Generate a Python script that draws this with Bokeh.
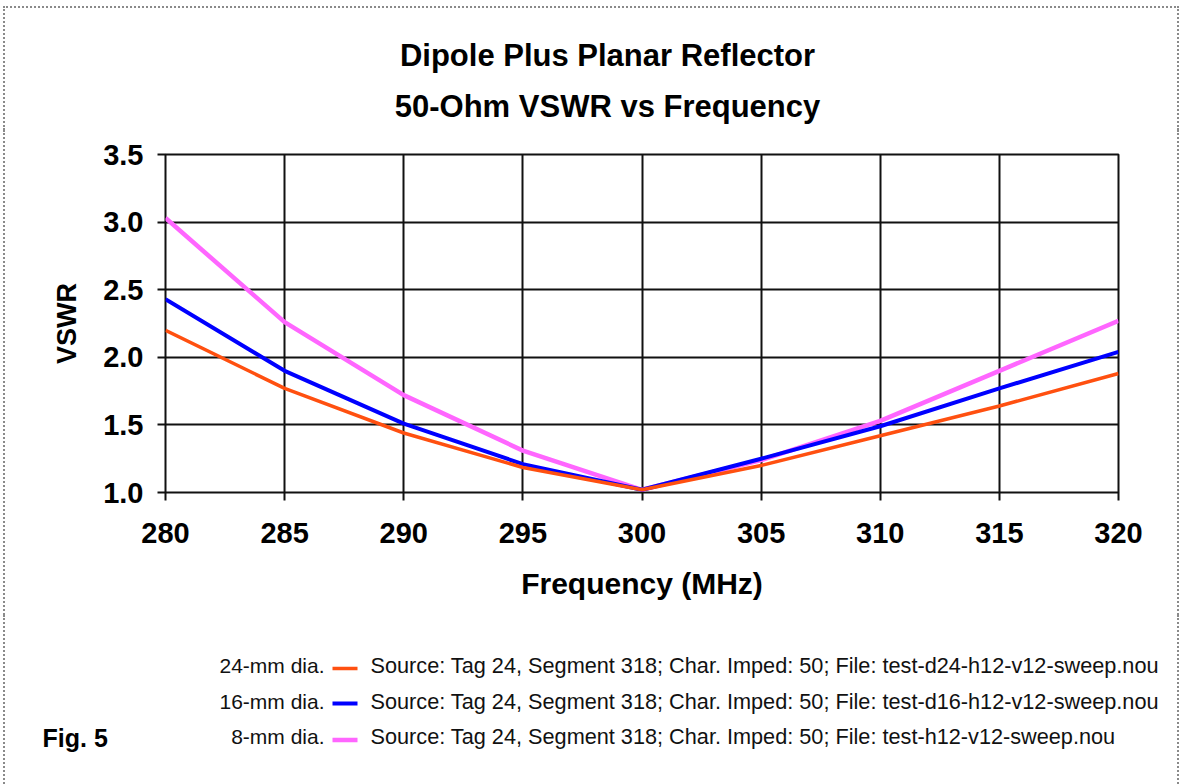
from bokeh.plotting import figure
from bokeh.models import (Range1d, FixedTicker, NumeralTickFormatter,
                          ColumnDataSource, InlineStyleSheet)
from bokeh.core.properties import value
from bokeh.embed import file_html
from bokeh.resources import INLINE

# ---- data ----
freq = [280, 285, 290, 295, 300, 305, 310, 315, 320]
vswr_24mm = [2.20, 1.77, 1.44, 1.185, 1.02, 1.20, 1.42, 1.64, 1.88]
vswr_16mm = [2.43, 1.90, 1.51, 1.21, 1.02, 1.25, 1.49, 1.77, 2.04]
vswr_8mm = [3.03, 2.26, 1.72, 1.31, 1.02, 1.24, 1.53, 1.90, 2.27]

x_ticks = [280, 285, 290, 295, 300, 305, 310, 315, 320]
y_ticks = [1.0, 1.5, 2.0, 2.5, 3.0, 3.5]

series_names = ["24-mm dia.", "16-mm dia.", "8-mm dia."]
series_sources = [
    "Source: Tag 24, Segment 318; Char. Imped: 50; File: test-d24-h12-v12-sweep.nou",
    "Source: Tag 24, Segment 318; Char. Imped: 50; File: test-d16-h12-v12-sweep.nou",
    "Source: Tag 24, Segment 318; Char. Imped: 50; File: test-h12-v12-sweep.nou",
]
series_colors = ["#FF5010", "#0000FF", "#FF66FF"]
series_widths = [3.5, 4, 4.5]

title_lines = ["Dipole Plus Planar Reflector", "50-Ohm VSWR vs Frequency"]
fig_label = "Fig. 5"

FONT = "Liberation Sans"
W = 1186
HEAD_H, FOOT_H = 130, 169
MAIN_H = 784 - HEAD_H - FOOT_H

DOT = "2px dotted #8a8a8a"


def border_sheet(top_px):
    # page frame drawn around the whole picture (top edge only on the heading)
    top_rule = f"border-top: {DOT}; " if top_px is not None else ""
    top_pos = f"{top_px}px" if top_px is not None else "0px"
    return InlineStyleSheet(css=(
        ":host::after { content: ''; position: absolute; left: 3px; right: 7px; "
        f"top: {top_pos}; bottom: 0px; {top_rule}"
        f"border-left: {DOT}; border-right: {DOT}; "
        "pointer-events: none; z-index: 10; }"))


def blank_panel(h, y_top):
    f = figure(width=W, height=h, output_backend="svg", toolbar_location=None,
               title=None, x_range=Range1d(0, W), y_range=Range1d(y_top + h, y_top),
               x_axis_location=None, y_axis_location=None,
               min_border=0, outline_line_color=None)
    f.grid.visible = False
    f.background_fill_color = "white"
    f.border_fill_color = "white"
    return f


# ---- heading ----
head = blank_panel(HEAD_H, 0)
head.text(x=[607, 607], y=[55, 106], text=title_lines, text_align="center",
          text_baseline="alphabetic", text_font=value(FONT), text_font_style="bold",
          text_font_size="31px", text_color="black")
head.stylesheets = [border_sheet(6)]

# ---- main chart ----
p = figure(width=W, height=MAIN_H, output_backend="svg", toolbar_location=None,
           x_range=Range1d(280, 320), y_range=Range1d(1.0, 3.5),
           min_border_left=165, min_border_right=W - 1118, min_border_top=154 - HEAD_H,
           min_border_bottom=(HEAD_H + MAIN_H) - 492)
p.outline_line_color = "#111111"
p.outline_line_width = 2
p.background_fill_color = "white"
p.border_fill_color = "white"
p.stylesheets = [border_sheet(None)]

for g, t in ((p.xgrid, x_ticks), (p.ygrid, y_ticks)):
    g.ticker = FixedTicker(ticks=t)
    g.grid_line_color = "#111111"
    g.grid_line_width = 2

p.xaxis.ticker = FixedTicker(ticks=x_ticks)
p.yaxis.ticker = FixedTicker(ticks=y_ticks)
p.yaxis.formatter = NumeralTickFormatter(format="0.0")
for ax in (p.xaxis, p.yaxis):
    ax.axis_line_color = None
    ax.major_tick_line_color = "#111111"
    ax.major_tick_line_width = 2
    ax.major_tick_out = 8
    ax.major_tick_in = 0
    ax.minor_tick_line_color = None
    ax.major_label_text_font = FONT
    ax.major_label_text_font_style = "bold"
    ax.major_label_text_font_size = "29px"
    ax.major_label_text_color = "black"
    ax.axis_label_text_font = FONT
    ax.axis_label_text_font_style = "bold"
    ax.axis_label_text_color = "black"

p.xaxis.axis_label = "Frequency (MHz)"
p.xaxis.axis_label_text_font_size = "30px"
p.xaxis.major_label_standoff = 22
p.xaxis.axis_label_standoff = 21
p.yaxis.axis_label = "VSWR"
p.yaxis.axis_label_text_font_size = "27px"
p.yaxis.major_label_standoff = 14
p.yaxis.axis_label_standoff = 18

ys = [vswr_24mm, vswr_16mm, vswr_8mm]
for i in (2, 1, 0):
    src = ColumnDataSource(dict(x=freq, y=ys[i]))
    p.line("x", "y", source=src, line_color=series_colors[i],
           line_width=series_widths[i])

# ---- legend / footer ----
foot = blank_panel(FOOT_H, HEAD_H + MAIN_H)
text_y = [665, 700.5, 736]
sample_y = [668, 703, 739.5]
foot.text(x=[324] * 3, y=text_y, text=series_names, text_align="right",
          text_baseline="alphabetic", text_font=value(FONT), text_font_size="21px",
          text_color="#111111")
foot.segment(x0=[332] * 3, x1=[357] * 3, y0=sample_y, y1=sample_y,
             line_color=series_colors, line_width=series_widths)
foot.text(x=[370] * 3, y=text_y, text=series_sources, text_align="left",
          text_baseline="alphabetic", text_font=value(FONT), text_font_size="21.7px",
          text_color="#111111")
foot.text(x=[42], y=[737], text=[fig_label], text_align="left",
          text_baseline="alphabetic", text_font=value(FONT), text_font_style="bold",
          text_font_size="25px", text_color="black")
foot.stylesheets = [border_sheet(None)]

open("out.html", "w").write(file_html([head, p, foot], INLINE))
